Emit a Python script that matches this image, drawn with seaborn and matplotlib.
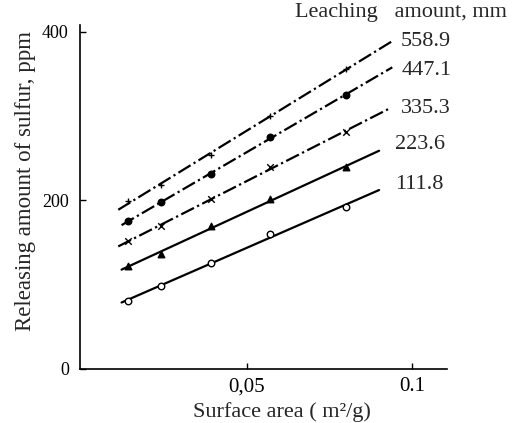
import numpy as np
import pandas as pd
import matplotlib as mpl
import matplotlib.pyplot as plt
import seaborn as sb

sb.set_style("ticks")
plt.rcParams['font.family'] = ['Liberation Serif', 'DejaVu Serif']
mpl.rcParams['font.size'] = 12.0

# surface area of the samples (m2/g)
surface = [0.014, 0.024, 0.039, 0.057, 0.080]

# released sulfur (ppm) for each leaching amount (mm)
leaching = ["111.8", "223.6", "335.3", "447.1", "558.9"]
s_111 = [81, 98, 126, 160, 192]
s_223 = [122, 136, 169, 201, 239]
s_335 = [152, 169, 201, 240, 281]
s_447 = [175, 198, 231, 275, 325]
s_558 = [199, 218, 254, 300, 356]

# range of the drawn regression lines
fit_lo = [0.012, 0.012, 0.011, 0.012, 0.011]
fit_hi = [0.090, 0.090, 0.093, 0.094, 0.094]

marker_list = ["o", "^", "x", "o", "+"]
fill_list = ["white", "black", "black", "black", "black"]
dash_list = ["-", "-", "-.", "-.", "-."]
lab_dx = [0.0048, 0.0048, 0.0035, 0.0028, 0.0025]
lab_dy = [7, 7, 0, -4, 0]

series = [s_111, s_223, s_335, s_447, s_558]

fig = plt.figure(figsize=(5.26, 4.23), dpi=100)
ax = fig.add_axes([0.152, 0.128, 0.698, 0.813])

for i, name in enumerate(leaching):
    vals = np.array(series[i])
    k, b = np.polyfit(surface, vals, 1)
    fx = np.array([fit_lo[i], fit_hi[i]])
    fit = pd.DataFrame({"x": fx, "y": k * fx + b})
    sb.lineplot(data=fit, x="x", y="y", ax=ax, color="black", lw=1.6,
                linestyle=dash_list[i])
    pts = pd.DataFrame({"x": surface, "y": vals})
    sb.scatterplot(data=pts, x="x", y="y", ax=ax, marker=marker_list[i],
                   s=22, color="black", facecolor=fill_list[i],
                   edgecolor="black", linewidth=1.0, zorder=3)
    # label at end of line
    ax.text(fit_hi[i] + lab_dx[i], k * fit_hi[i] + b + lab_dy[i], name,
            fontsize=16, va="center", ha="left", clip_on=False)

ax.text(0.0645, 423, "Leaching   amount, mm", fontsize=16, va="center",
        ha="left", clip_on=False)

ax.set_xlim(-0.0006, 0.1106)
ax.set_ylim(0, 408)
ax.set_xticks([0.05, 0.1])
ax.set_xticklabels(["0,05", "0.1"])
ax.set_yticks([0, 200, 400])
ax.tick_params(direction="in", length=4, width=1)
ax.tick_params(axis="x", labelsize=15, pad=6)
ax.tick_params(axis="y", labelsize=13, pad=8)
ax.set_xlabel("Surface area ( m²/g)", fontsize=16)
ax.set_ylabel("Releasing amount of sulfur, ppm", fontsize=16.5)
ax.xaxis.set_label_coords(0.549, -0.097)
ax.yaxis.set_label_coords(-0.12, 0.547)
for sp in ["top", "right"]:
    ax.spines[sp].set_visible(False)
for sp in ["left", "bottom"]:
    ax.spines[sp].set_linewidth(1.2)
    ax.spines[sp].set_color("black")
ax.tick_params(colors="black")

fig.savefig("out.png", dpi=100)
